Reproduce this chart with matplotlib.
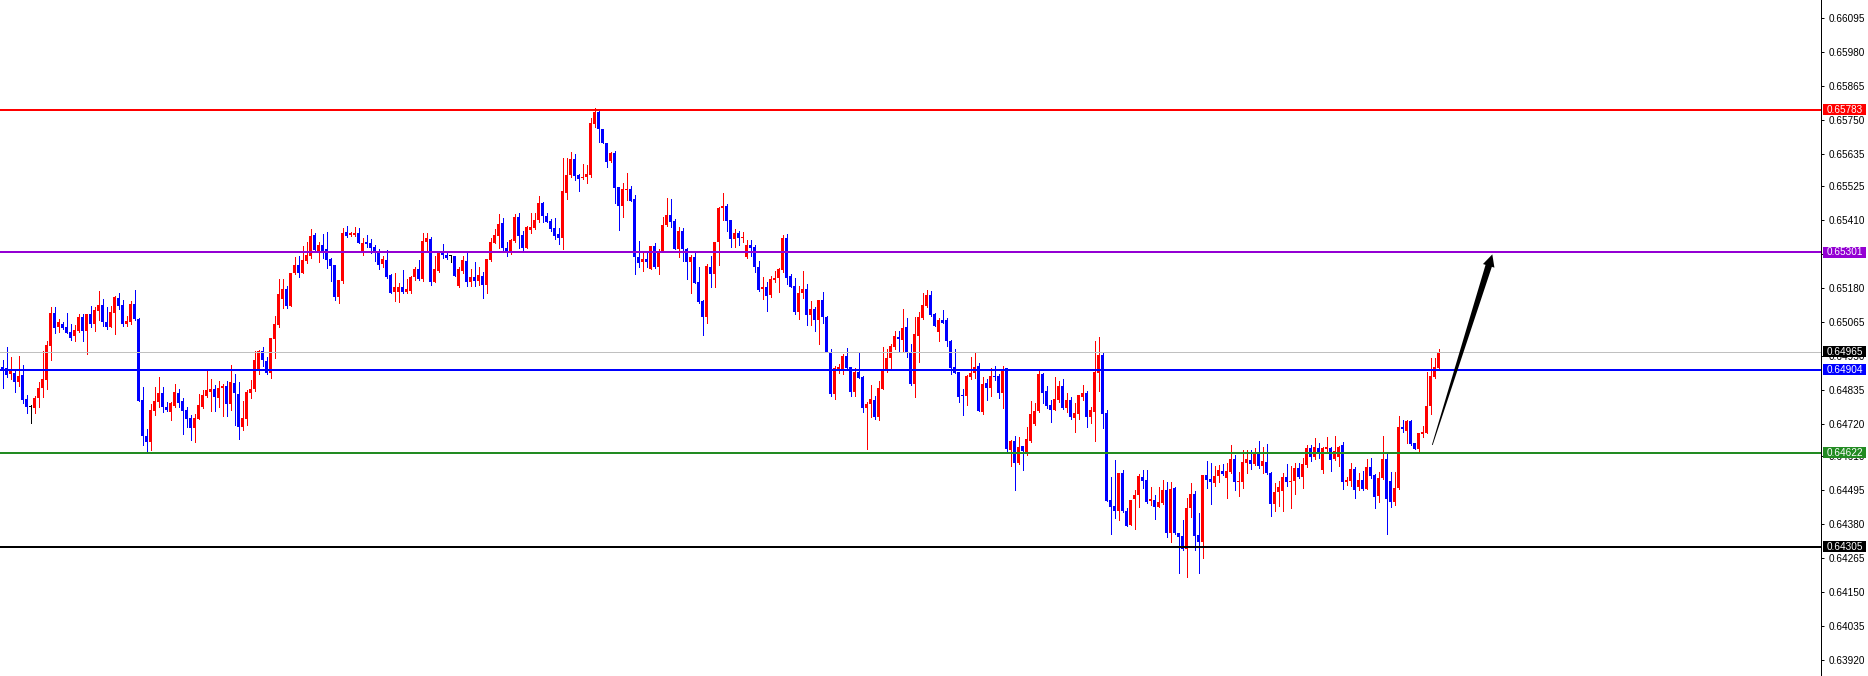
import matplotlib
matplotlib.use("Agg")
import matplotlib.pyplot as plt
from matplotlib.patches import Rectangle, Polygon
from matplotlib.transforms import IdentityTransform
import numpy as np

plt.rcParams['font.family'] = ['Liberation Sans', 'DejaVu Sans']

# ---------------- data (OHLC, one candle per bar) ----------------
opens = [
0.64914, 0.64908, 0.64890, 0.64892, 0.64863, 0.64886, 0.64805, 0.64777, 0.64775, 0.64807,
0.64842, 0.64869, 0.64984, 0.65096, 0.65048, 0.65060, 0.65048, 0.65031, 0.65019, 0.65036,
0.65082, 0.65036, 0.65092, 0.65059, 0.65104, 0.65123, 0.65065, 0.65048, 0.65097, 0.65147,
0.65123, 0.65059, 0.65066, 0.65126, 0.65074, 0.64801, 0.64679, 0.64660, 0.64765, 0.64796,
0.64825, 0.64779, 0.64759, 0.64782, 0.64825, 0.64798, 0.64768, 0.64741, 0.64708, 0.64738,
0.64779, 0.64816, 0.64827, 0.64840, 0.64809, 0.64841, 0.64847, 0.64788, 0.64860, 0.64821,
0.64711, 0.64737, 0.64824, 0.64837, 0.64903, 0.64967, 0.64932, 0.64894, 0.65007, 0.65055,
0.65143, 0.65177, 0.65121, 0.65231, 0.65257, 0.65231, 0.65272, 0.65287, 0.65360, 0.65307,
0.65326, 0.65312, 0.65279, 0.65258, 0.65151, 0.65204, 0.65370, 0.65359, 0.65360, 0.65368,
0.65301, 0.65336, 0.65334, 0.65320, 0.65299, 0.65262, 0.65275, 0.65224, 0.65168, 0.65166,
0.65185, 0.65166, 0.65171, 0.65219, 0.65245, 0.65210, 0.65337, 0.65345, 0.65199, 0.65239,
0.65298, 0.65292, 0.65289, 0.65289, 0.65187, 0.65238, 0.65273, 0.65199, 0.65219, 0.65204,
0.65221, 0.65190, 0.65275, 0.65334, 0.65356, 0.65400, 0.65317, 0.65306, 0.65341, 0.65422,
0.65361, 0.65317, 0.65377, 0.65385, 0.65411, 0.65468, 0.65425, 0.65408, 0.65382, 0.65362,
0.65351, 0.65503, 0.65563, 0.65617, 0.65563, 0.65554, 0.65557, 0.65564, 0.65734, 0.65777,
0.65718, 0.65670, 0.65610, 0.65638, 0.65521, 0.65458, 0.65512, 0.65514, 0.65482, 0.65284,
0.65269, 0.65279, 0.65245, 0.65323, 0.65253, 0.65307, 0.65394, 0.65427, 0.65407, 0.65312,
0.65373, 0.65312, 0.65269, 0.65286, 0.65199, 0.65136, 0.65083, 0.65253, 0.65227, 0.65335,
0.65450, 0.65459, 0.65411, 0.65345, 0.65365, 0.65349, 0.65286, 0.65326, 0.65319, 0.65252,
0.65177, 0.65185, 0.65157, 0.65207, 0.65215, 0.65241, 0.65351, 0.65221, 0.65187, 0.65100,
0.65162, 0.65177, 0.65089, 0.65109, 0.65072, 0.65140, 0.65082, 0.64965, 0.64821, 0.64903,
0.64905, 0.64950, 0.64912, 0.64828, 0.64897, 0.64879, 0.64775, 0.64788, 0.64801, 0.64743,
0.64839, 0.64903, 0.64942, 0.64982, 0.65013, 0.65004, 0.65047, 0.64965, 0.64856, 0.65019,
0.65078, 0.65121, 0.65157, 0.65093, 0.65033, 0.65072, 0.65072, 0.65001, 0.64914, 0.64895,
0.64818, 0.64816, 0.64880, 0.64894, 0.64917, 0.64760, 0.64858, 0.64843, 0.64883, 0.64883,
0.64826, 0.64909, 0.64632, 0.64663, 0.64589, 0.64646, 0.64623, 0.64663, 0.64720, 0.64764,
0.64889, 0.64830, 0.64785, 0.64768, 0.64801, 0.64849, 0.64773, 0.64801, 0.64739, 0.64754,
0.64813, 0.64826, 0.64742, 0.64762, 0.64894, 0.64954, 0.64756, 0.64463, 0.64443, 0.64424,
0.64553, 0.64426, 0.64379, 0.64466, 0.64478, 0.64540, 0.64531, 0.64461, 0.64463, 0.64440,
0.64452, 0.64495, 0.64350, 0.64503, 0.64350, 0.64341, 0.64296, 0.64435, 0.64483, 0.64345,
0.64319, 0.64548, 0.64533, 0.64519, 0.64544, 0.64561, 0.64536, 0.64557, 0.64602, 0.64522,
0.64525, 0.64587, 0.64598, 0.64585, 0.64621, 0.64578, 0.64592, 0.64555, 0.64449, 0.64489,
0.64493, 0.64542, 0.64522, 0.64527, 0.64572, 0.64542, 0.64581, 0.64640, 0.64607, 0.64640,
0.64564, 0.64635, 0.64638, 0.64601, 0.64609, 0.64649, 0.64522, 0.64528, 0.64568, 0.64508,
0.64531, 0.64500, 0.64573, 0.64548, 0.64476, 0.64536, 0.64601, 0.64527, 0.64455, 0.64502,
0.64709, 0.64696, 0.64730, 0.64655, 0.64635, 0.64686, 0.64691, 0.64781, 0.64880, 0.64909,
]

highs = [
0.64937, 0.64981, 0.64947, 0.64903, 0.64950, 0.64920, 0.64818, 0.64784, 0.64815, 0.64862,
0.64967, 0.65002, 0.65115, 0.65115, 0.65077, 0.65066, 0.65096, 0.65060, 0.65054, 0.65093,
0.65093, 0.65093, 0.65118, 0.65115, 0.65170, 0.65142, 0.65115, 0.65121, 0.65153, 0.65162,
0.65140, 0.65087, 0.65136, 0.65174, 0.65079, 0.64845, 0.64702, 0.64788, 0.64845, 0.64879,
0.64844, 0.64793, 0.64795, 0.64857, 0.64837, 0.64807, 0.64778, 0.64752, 0.64753, 0.64822,
0.64834, 0.64899, 0.64872, 0.64853, 0.64865, 0.64857, 0.64867, 0.64920, 0.64890, 0.64862,
0.64798, 0.64835, 0.64869, 0.64967, 0.64971, 0.64982, 0.64948, 0.65012, 0.65086, 0.65211,
0.65210, 0.65187, 0.65232, 0.65285, 0.65288, 0.65323, 0.65336, 0.65380, 0.65368, 0.65337,
0.65363, 0.65370, 0.65281, 0.65258, 0.65207, 0.65385, 0.65390, 0.65371, 0.65388, 0.65382,
0.65349, 0.65360, 0.65345, 0.65326, 0.65312, 0.65287, 0.65309, 0.65227, 0.65230, 0.65198,
0.65241, 0.65211, 0.65221, 0.65250, 0.65275, 0.65368, 0.65368, 0.65354, 0.65289, 0.65307,
0.65329, 0.65307, 0.65293, 0.65289, 0.65253, 0.65289, 0.65306, 0.65244, 0.65268, 0.65253,
0.65233, 0.65279, 0.65351, 0.65380, 0.65431, 0.65417, 0.65335, 0.65345, 0.65431, 0.65435,
0.65373, 0.65390, 0.65433, 0.65435, 0.65492, 0.65472, 0.65433, 0.65413, 0.65416, 0.65382,
0.65619, 0.65619, 0.65639, 0.65634, 0.65566, 0.65600, 0.65597, 0.65755, 0.65788, 0.65783,
0.65718, 0.65670, 0.65642, 0.65645, 0.65521, 0.65535, 0.65568, 0.65526, 0.65495, 0.65339,
0.65306, 0.65307, 0.65324, 0.65332, 0.65311, 0.65422, 0.65484, 0.65482, 0.65413, 0.65388,
0.65385, 0.65317, 0.65292, 0.65306, 0.65250, 0.65140, 0.65262, 0.65289, 0.65335, 0.65453,
0.65501, 0.65465, 0.65411, 0.65379, 0.65374, 0.65369, 0.65343, 0.65343, 0.65326, 0.65272,
0.65218, 0.65200, 0.65222, 0.65238, 0.65247, 0.65360, 0.65363, 0.65227, 0.65213, 0.65187,
0.65238, 0.65194, 0.65136, 0.65117, 0.65140, 0.65167, 0.65086, 0.64973, 0.64916, 0.64923,
0.64957, 0.64976, 0.64914, 0.64909, 0.64965, 0.64883, 0.64794, 0.64852, 0.64815, 0.64866,
0.64980, 0.64973, 0.64991, 0.65036, 0.65036, 0.65109, 0.65078, 0.64990, 0.65083, 0.65100,
0.65162, 0.65174, 0.65170, 0.65095, 0.65080, 0.65106, 0.65078, 0.65004, 0.64974, 0.64897,
0.64839, 0.64886, 0.64948, 0.64965, 0.64928, 0.64880, 0.64873, 0.64911, 0.64917, 0.64889,
0.64917, 0.64911, 0.64666, 0.64680, 0.64677, 0.64646, 0.64711, 0.64798, 0.64790, 0.64903,
0.64892, 0.64847, 0.64801, 0.64880, 0.64867, 0.64873, 0.64824, 0.64813, 0.64790, 0.64818,
0.64852, 0.64832, 0.64776, 0.65001, 0.65013, 0.64959, 0.64768, 0.64540, 0.64598, 0.64553,
0.64565, 0.64435, 0.64463, 0.64497, 0.64550, 0.64565, 0.64565, 0.64506, 0.64480, 0.64506,
0.64531, 0.64522, 0.64525, 0.64508, 0.64350, 0.64395, 0.64469, 0.64519, 0.64494, 0.64418,
0.64548, 0.64596, 0.64587, 0.64578, 0.64581, 0.64584, 0.64589, 0.64649, 0.64615, 0.64559,
0.64632, 0.64632, 0.64632, 0.64638, 0.64663, 0.64641, 0.64652, 0.64559, 0.64519, 0.64527,
0.64555, 0.64584, 0.64578, 0.64589, 0.64589, 0.64606, 0.64649, 0.64649, 0.64672, 0.64655,
0.64643, 0.64677, 0.64643, 0.64679, 0.64646, 0.64659, 0.64542, 0.64587, 0.64576, 0.64553,
0.64561, 0.64601, 0.64604, 0.64551, 0.64559, 0.64679, 0.64618, 0.64559, 0.64559, 0.64747,
0.64734, 0.64734, 0.64734, 0.64657, 0.64691, 0.64713, 0.64897, 0.64942, 0.64942, 0.64973,
]

lows = [
0.64843, 0.64880, 0.64873, 0.64829, 0.64847, 0.64792, 0.64758, 0.64725, 0.64756, 0.64779,
0.64810, 0.64840, 0.64937, 0.65029, 0.65031, 0.65042, 0.65027, 0.65004, 0.65002, 0.65031,
0.65002, 0.64958, 0.65049, 0.65036, 0.65072, 0.65053, 0.65043, 0.65048, 0.65026, 0.65109,
0.65053, 0.65051, 0.65059, 0.65072, 0.64799, 0.64649, 0.64626, 0.64632, 0.64749, 0.64779,
0.64762, 0.64763, 0.64735, 0.64779, 0.64779, 0.64687, 0.64709, 0.64666, 0.64660, 0.64737,
0.64775, 0.64813, 0.64765, 0.64765, 0.64779, 0.64748, 0.64748, 0.64769, 0.64718, 0.64670,
0.64698, 0.64717, 0.64807, 0.64830, 0.64888, 0.64916, 0.64888, 0.64877, 0.64945, 0.65049,
0.65112, 0.65112, 0.65121, 0.65229, 0.65219, 0.65231, 0.65264, 0.65283, 0.65301, 0.65269,
0.65283, 0.65247, 0.65205, 0.65138, 0.65128, 0.65196, 0.65354, 0.65357, 0.65357, 0.65334,
0.65292, 0.65320, 0.65300, 0.65270, 0.65244, 0.65250, 0.65213, 0.65162, 0.65136, 0.65134,
0.65165, 0.65162, 0.65165, 0.65207, 0.65207, 0.65205, 0.65303, 0.65191, 0.65199, 0.65236,
0.65283, 0.65277, 0.65269, 0.65221, 0.65183, 0.65230, 0.65187, 0.65187, 0.65187, 0.65191,
0.65148, 0.65165, 0.65272, 0.65332, 0.65315, 0.65307, 0.65290, 0.65295, 0.65337, 0.65315,
0.65303, 0.65315, 0.65368, 0.65381, 0.65402, 0.65403, 0.65402, 0.65373, 0.65345, 0.65328,
0.65312, 0.65480, 0.65555, 0.65546, 0.65510, 0.65549, 0.65537, 0.65555, 0.65724, 0.65676,
0.65670, 0.65591, 0.65608, 0.65469, 0.65377, 0.65422, 0.65478, 0.65476, 0.65227, 0.65253,
0.65238, 0.65253, 0.65244, 0.65247, 0.65227, 0.65303, 0.65391, 0.65388, 0.65312, 0.65286,
0.65273, 0.65211, 0.65165, 0.65196, 0.65129, 0.65021, 0.65061, 0.65182, 0.65183, 0.65258,
0.65411, 0.65374, 0.65320, 0.65320, 0.65326, 0.65335, 0.65283, 0.65289, 0.65236, 0.65171,
0.65143, 0.65103, 0.65151, 0.65202, 0.65168, 0.65236, 0.65194, 0.65182, 0.65092, 0.65075,
0.65148, 0.65055, 0.65055, 0.65035, 0.64991, 0.65061, 0.64965, 0.64816, 0.64805, 0.64894,
0.64890, 0.64909, 0.64816, 0.64816, 0.64875, 0.64759, 0.64636, 0.64745, 0.64736, 0.64732,
0.64839, 0.64897, 0.64909, 0.64973, 0.64965, 0.64968, 0.64948, 0.64852, 0.64813, 0.64931,
0.65076, 0.65117, 0.65087, 0.65050, 0.65002, 0.65063, 0.64984, 0.64890, 0.64892, 0.64793,
0.64751, 0.64785, 0.64871, 0.64875, 0.64764, 0.64754, 0.64801, 0.64815, 0.64869, 0.64809,
0.64775, 0.64623, 0.64579, 0.64497, 0.64585, 0.64565, 0.64615, 0.64660, 0.64715, 0.64760,
0.64792, 0.64773, 0.64728, 0.64768, 0.64796, 0.64771, 0.64759, 0.64737, 0.64694, 0.64737,
0.64801, 0.64711, 0.64723, 0.64663, 0.64830, 0.64708, 0.64461, 0.64348, 0.64401, 0.64395,
0.64421, 0.64376, 0.64379, 0.64364, 0.64440, 0.64505, 0.64454, 0.64446, 0.64399, 0.64440,
0.64449, 0.64339, 0.64322, 0.64348, 0.64217, 0.64294, 0.64201, 0.64404, 0.64294, 0.64217,
0.64268, 0.64505, 0.64448, 0.64511, 0.64522, 0.64547, 0.64471, 0.64553, 0.64497, 0.64476,
0.64502, 0.64555, 0.64567, 0.64581, 0.64572, 0.64555, 0.64550, 0.64410, 0.64427, 0.64444,
0.64427, 0.64510, 0.64435, 0.64483, 0.64538, 0.64505, 0.64573, 0.64595, 0.64600, 0.64604,
0.64555, 0.64626, 0.64561, 0.64598, 0.64578, 0.64500, 0.64514, 0.64510, 0.64471, 0.64497,
0.64495, 0.64499, 0.64538, 0.64437, 0.64457, 0.64533, 0.64348, 0.64440, 0.64446, 0.64500,
0.64694, 0.64655, 0.64649, 0.64634, 0.64626, 0.64677, 0.64689, 0.64754, 0.64877, 0.64905,
]

closes = [
0.64900, 0.64886, 0.64900, 0.64863, 0.64883, 0.64801, 0.64779, 0.64777, 0.64807, 0.64842,
0.64872, 0.64986, 0.65096, 0.65046, 0.65065, 0.65046, 0.65029, 0.65011, 0.65038, 0.65082,
0.65036, 0.65092, 0.65059, 0.65106, 0.65123, 0.65066, 0.65048, 0.65099, 0.65150, 0.65121,
0.65059, 0.65069, 0.65126, 0.65076, 0.64799, 0.64680, 0.64660, 0.64767, 0.64798, 0.64825,
0.64779, 0.64768, 0.64790, 0.64828, 0.64792, 0.64765, 0.64738, 0.64708, 0.64741, 0.64784,
0.64819, 0.64834, 0.64839, 0.64812, 0.64841, 0.64847, 0.64787, 0.64862, 0.64824, 0.64709,
0.64741, 0.64828, 0.64839, 0.64937, 0.64967, 0.64936, 0.64894, 0.65010, 0.65057, 0.65160,
0.65177, 0.65121, 0.65231, 0.65257, 0.65231, 0.65275, 0.65292, 0.65357, 0.65309, 0.65326,
0.65307, 0.65275, 0.65256, 0.65151, 0.65207, 0.65367, 0.65357, 0.65365, 0.65368, 0.65334,
0.65334, 0.65329, 0.65315, 0.65300, 0.65258, 0.65279, 0.65219, 0.65165, 0.65185, 0.65185,
0.65166, 0.65177, 0.65219, 0.65245, 0.65210, 0.65339, 0.65351, 0.65199, 0.65245, 0.65301,
0.65292, 0.65283, 0.65289, 0.65221, 0.65244, 0.65275, 0.65199, 0.65217, 0.65205, 0.65224,
0.65190, 0.65279, 0.65335, 0.65360, 0.65397, 0.65317, 0.65306, 0.65343, 0.65422, 0.65356,
0.65317, 0.65385, 0.65388, 0.65411, 0.65468, 0.65424, 0.65403, 0.65379, 0.65356, 0.65351,
0.65510, 0.65563, 0.65617, 0.65561, 0.65549, 0.65557, 0.65566, 0.65740, 0.65777, 0.65717,
0.65670, 0.65607, 0.65636, 0.65520, 0.65458, 0.65514, 0.65515, 0.65476, 0.65284, 0.65264,
0.65279, 0.65269, 0.65323, 0.65253, 0.65307, 0.65394, 0.65427, 0.65405, 0.65312, 0.65373,
0.65312, 0.65269, 0.65286, 0.65198, 0.65132, 0.65083, 0.65255, 0.65227, 0.65335, 0.65452,
0.65458, 0.65408, 0.65345, 0.65365, 0.65349, 0.65354, 0.65326, 0.65317, 0.65253, 0.65174,
0.65185, 0.65154, 0.65211, 0.65215, 0.65245, 0.65351, 0.65215, 0.65185, 0.65100, 0.65165,
0.65177, 0.65089, 0.65109, 0.65072, 0.65140, 0.65081, 0.64965, 0.64822, 0.64911, 0.64914,
0.64950, 0.64909, 0.64828, 0.64897, 0.64877, 0.64775, 0.64788, 0.64805, 0.64743, 0.64841,
0.64903, 0.64945, 0.64984, 0.65018, 0.65008, 0.65044, 0.64963, 0.64856, 0.65025, 0.65081,
0.65123, 0.65157, 0.65089, 0.65053, 0.65072, 0.65063, 0.65002, 0.64909, 0.64894, 0.64813,
0.64816, 0.64883, 0.64894, 0.64914, 0.64764, 0.64856, 0.64841, 0.64883, 0.64880, 0.64826,
0.64903, 0.64636, 0.64663, 0.64589, 0.64641, 0.64627, 0.64669, 0.64754, 0.64765, 0.64889,
0.64826, 0.64781, 0.64768, 0.64805, 0.64850, 0.64775, 0.64801, 0.64742, 0.64756, 0.64818,
0.64826, 0.64745, 0.64768, 0.64897, 0.64954, 0.64754, 0.64461, 0.64440, 0.64424, 0.64553,
0.64427, 0.64376, 0.64463, 0.64480, 0.64544, 0.64528, 0.64457, 0.64465, 0.64440, 0.64457,
0.64497, 0.64352, 0.64500, 0.64350, 0.64339, 0.64296, 0.64435, 0.64483, 0.64342, 0.64319,
0.64548, 0.64531, 0.64522, 0.64544, 0.64564, 0.64550, 0.64561, 0.64602, 0.64522, 0.64527,
0.64593, 0.64602, 0.64585, 0.64621, 0.64578, 0.64595, 0.64553, 0.64449, 0.64491, 0.64508,
0.64542, 0.64522, 0.64527, 0.64572, 0.64539, 0.64584, 0.64640, 0.64609, 0.64641, 0.64621,
0.64640, 0.64641, 0.64598, 0.64630, 0.64643, 0.64522, 0.64531, 0.64568, 0.64497, 0.64531,
0.64500, 0.64573, 0.64544, 0.64474, 0.64536, 0.64602, 0.64465, 0.64457, 0.64502, 0.64709,
0.64702, 0.64730, 0.64652, 0.64635, 0.64689, 0.64694, 0.64781, 0.64883, 0.64912, 0.64965,
]

# horizontal levels: (price, colour, line width in px)
level_prices = [0.65783, 0.65301, 0.64965, 0.64904, 0.64622, 0.64305]
level_colors = ['#FF0000', '#9400D3', '#C0C0C0', '#0000FF', '#228B22', '#000000']
level_box_colors = ['#FF0000', '#9400D3', '#000000', '#0000FF', '#228B22', '#000000']
level_widths_px = [2, 2, 1, 2, 2, 2]

# right price scale
tick_values = [0.66095, 0.65980, 0.65865, 0.65750, 0.65635, 0.65525, 0.65410, 0.65295,
               0.65180, 0.65065, 0.64950, 0.64835, 0.64720, 0.64610, 0.64495, 0.64380,
               0.64265, 0.64150, 0.64035, 0.63920]
tick_labels = ['%.5f' % v for v in tick_values]

# arrow annotation (bar index, price)
arrow_start = (357.45, 0.64649)
arrow_end = (372.45, 0.65294)

# ---------------- figure ----------------
W, H = 1868, 676
AXR = 1821  # pixel x of the price-scale line
fig = plt.figure(figsize=(W / 100, H / 100), dpi=100)
fig.patch.set_facecolor('white')
ax = fig.add_axes([0, 0, AXR / W, 1])
ax.set_xlim(-0.625, -0.625 + AXR / 4.0)
ax.set_ylim(0.63867, 0.66155)

px = 72.0 / 100.0  # one pixel in points
FS = 7.2

o = np.array(opens); h = np.array(highs); l = np.array(lows); c = np.array(closes)
x = np.arange(len(o))
cols = np.where(c > o, '#FF0000', np.where(c < o, '#0000FF', '#000000'))
lo = np.minimum(l, np.minimum(o, c))
hi = np.maximum(h, np.maximum(o, c))
ax.vlines(x, lo, hi, colors=cols, linewidth=px, antialiased=False, zorder=2)
body_b = np.minimum(o, c)
body_h = np.maximum(np.abs(c - o), 0.000034)
ax.bar(x, body_h, width=0.75, bottom=body_b, color=cols, linewidth=0,
       antialiased=False, zorder=3)

for p, col, w in zip(level_prices, level_colors, level_widths_px):
    ax.axhline(p, color=col, linewidth=w * px, zorder=4)

# axes styling
for s in ['left', 'top', 'bottom']:
    ax.spines[s].set_visible(False)
ax.spines['right'].set_linewidth(px)
ax.spines['right'].set_color('black')
ax.set_xticks([])
ax.yaxis.tick_right()
ax.set_yticks(tick_values)
ax.set_yticklabels(tick_labels)
ax.tick_params(axis='y', length=3 * px, width=px, color='black', pad=3,
               labelsize=FS, labelcolor='black')

# price label boxes on the scale
idt = IdentityTransform()
for p, bc in zip(level_prices, level_box_colors):
    yp = ax.transData.transform((0, p))[1]
    rect = Rectangle((AXR + 2, yp - 5.5), 43, 11, transform=idt,
                     facecolor=bc, edgecolor='none', zorder=10)
    fig.add_artist(rect)
    fig.text(AXR + 6, yp, '%.5f' % p, transform=idt, color='white',
             fontsize=FS, va='center', ha='left', zorder=11)

# tapered arrow
p0 = ax.transData.transform(arrow_start)
p1 = ax.transData.transform(arrow_end)
d = p1 - p0
L = np.hypot(d[0], d[1])
u = d / L
n = np.array([-u[1], u[0]])
head_len, head_half, shaft_tail, shaft_head = 12.0, 6.0, 0.4, 3.3
base = p1 - u * head_len
pts = [p0 + n * shaft_tail, base + n * shaft_head, base + n * head_half, p1,
       base - n * head_half, base - n * shaft_head, p0 - n * shaft_tail]
fig.add_artist(Polygon(pts, closed=True, transform=idt, facecolor='black',
                       edgecolor='none', zorder=12))

fig.savefig('out.png', dpi=100, facecolor='white')
